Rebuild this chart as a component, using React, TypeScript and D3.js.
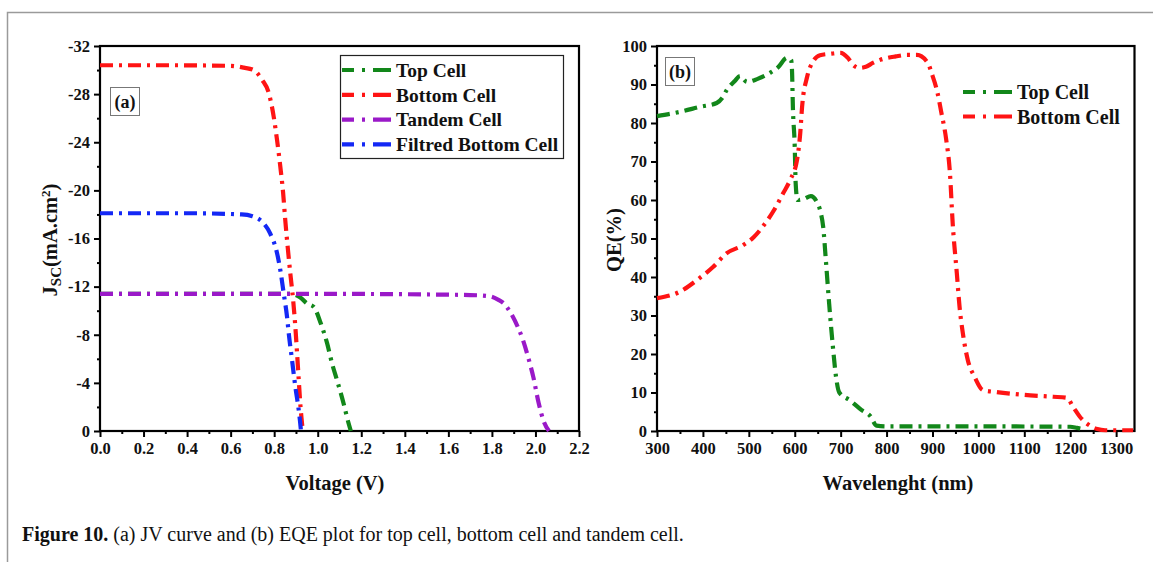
import React, { useEffect, useRef } from "react";
import * as d3 from "d3";

// JV curves (voltage V, current density mA/cm2)
const topCellJV: [number, number][] = [
  [0, -11.4], [0.5, -11.4], [0.87, -11.4], [0.92, -11.1], [0.95, -10.6], [0.982, -10.3],
  [1.013, -9.0], [1.043, -7.3], [1.066, -5.6], [1.089, -4.2], [1.12, -2.2], [1.135, -1.1], [1.152, 0],
];
const bottomCellJV: [number, number][] = [
  [0, -30.4], [0.3, -30.4], [0.6, -30.35], [0.66, -30.2], [0.706, -30.0], [0.744, -29.2],
  [0.775, -28.1], [0.798, -26.1], [0.813, -24.2], [0.828, -22.0], [0.841, -19.8], [0.851, -17.5],
  [0.862, -15.3], [0.874, -13.1], [0.887, -10.9], [0.897, -8.7], [0.905, -6.5], [0.913, -4.2],
  [0.921, -2.0], [0.928, -0.6], [0.931, 0],
];
const tandemCellJV: [number, number][] = [
  [0, -11.4], [1.0, -11.4], [1.5, -11.35], [1.7, -11.3], [1.79, -11.2], [1.83, -10.9],
  [1.855, -10.6], [1.89, -9.7], [1.92, -8.6], [1.94, -7.7], [1.97, -5.9], [1.99, -4.5],
  [2.015, -2.3], [2.04, -0.7], [2.062, 0],
];
const filteredCellJV: [number, number][] = [
  [0, -18.1], [0.4, -18.1], [0.65, -18.0], [0.7, -17.85], [0.744, -17.4], [0.782, -16.4],
  [0.813, -14.8], [0.828, -13.4], [0.844, -11.4], [0.859, -9.5], [0.867, -8.1], [0.882, -5.9],
  [0.897, -3.7], [0.913, -1.7], [0.921, -0.4], [0.923, 0],
];

// EQE curves (wavelength nm, QE %)
const topCellQE: [number, number][] = [
  [300, 81.8], [350, 82.9], [394, 84.2], [430, 85.2], [442, 86.5], [452, 88.6], [470, 91],
  [481, 92.2], [496, 90.7], [518, 91.4], [546, 93], [564, 94.5], [583, 96.9], [592, 96.4],
  [594, 93.8], [596, 84], [600, 73.8], [602, 64.4], [606, 60], [620, 60.3], [635, 61],
  [648, 59.5], [656, 57], [662, 53], [668, 44], [675, 33], [683, 22], [690, 14], [697, 10],
  [720, 8], [745, 5.5], [765, 3.8], [778, 1.4], [800, 1.2], [1000, 1.2], [1200, 1.1],
  [1215, 0.8], [1228, 0.5],
];
const bottomCellQE: [number, number][] = [
  [300, 34.5], [350, 36.2], [387, 39.2], [422, 42.6], [452, 46.2], [488, 48.3], [511, 50.4],
  [533, 53.5], [555, 57.4], [575, 61.8], [590, 65.2], [605, 70.4], [612, 77.4], [616, 84.2],
  [627, 92], [640, 96], [655, 97.6], [680, 98], [700, 98.2], [715, 97], [728, 95], [740, 94.3],
  [755, 94.6], [770, 95.6], [786, 96.4], [820, 97.3], [845, 97.7], [866, 97.7], [890, 95.6],
  [898, 93], [911, 87.8], [919, 82.9], [930, 75.6], [938, 67], [944, 54], [953, 41], [959, 32.2],
  [966, 25.5], [977, 18.4], [992, 14], [1010, 10.6], [1040, 10.1], [1097, 9.4], [1163, 8.9],
  [1193, 8.6], [1206, 6.3], [1221, 3.7], [1240, 1.6], [1259, 0.5], [1276, 0.2], [1337, 0.2],
];

const jvLegend = ["Top Cell", "Bottom Cell", "Tandem Cell", "Filtred Bottom Cell"];
const qeLegend = ["Top Cell", "Bottom Cell"];
const colors = ["#12871a", "#ff1414", "#9a19c8", "#1428f5"];

const jvXTicks = d3.range(0, 2.21, 0.2);
const jvYTicks = d3.range(-32, 0.1, 4);
const qeXTicks = d3.range(300, 1301, 100);
const qeYTicks = d3.range(0, 101, 10);

const FONT = "'Liberation Serif', 'Times New Roman', serif";
const DASH = "13,6,3,6";

function drawFrame(g: any, x: any, y: any, xTicks: number[], yTicks: number[], xMinor: number[], yMinor: number[], xFmt: any, yFmt: any) {
  const [x0, x1] = x.range();
  const [y1, y0] = y.range();

  const xa = g.append("g").attr("transform", `translate(0,${y1})`)
    .call(d3.axisBottom(x).tickValues(xTicks).tickFormat(xFmt).tickSize(6).tickPadding(5).tickSizeOuter(0));
  g.append("g").attr("transform", `translate(0,${y1})`)
    .call(d3.axisBottom(x).tickValues(xMinor).tickFormat(() => "").tickSize(3).tickSizeOuter(0));
  const ya = g.append("g").attr("transform", `translate(${x0},0)`)
    .call(d3.axisLeft(y).tickValues(yTicks).tickFormat(yFmt).tickSize(6).tickPadding(4).tickSizeOuter(0));
  g.append("g").attr("transform", `translate(${x0},0)`)
    .call(d3.axisLeft(y).tickValues(yMinor).tickFormat(() => "").tickSize(3).tickSizeOuter(0));

  g.selectAll(".domain").remove();
  g.selectAll(".tick line").attr("stroke", "#000").attr("stroke-width", 2);
  [xa, ya].forEach((a) => a.selectAll("text")
    .attr("fill", "#111").style("font-family", FONT).style("font-weight", "bold").style("font-size", "16.5px"));

  g.append("rect")
    .attr("x", x0).attr("y", y0).attr("width", x1 - x0).attr("height", y1 - y0)
    .attr("fill", "none").attr("stroke", "#000").attr("stroke-width", 2.2);
}

function drawLines(g: any, x: any, y: any, series: [number, number][][]) {
  const line = d3.line<[number, number]>().x((d) => x(d[0])).y((d) => y(d[1])).curve(d3.curveMonotoneX);
  series.forEach((s, i) => {
    g.append("path").datum(s).attr("d", line)
      .attr("fill", "none").attr("stroke", colors[i]).attr("stroke-width", 4.2)
      .attr("stroke-dasharray", DASH);
  });
}

function drawLegend(g: any, names: string[], lx: number, ly: number, step: number, size: number) {
  names.forEach((n, i) => {
    const yy = ly + i * step;
    g.append("line").attr("x1", lx).attr("x2", lx + 49).attr("y1", yy).attr("y2", yy)
      .attr("stroke", colors[i]).attr("stroke-width", 4.2).attr("stroke-dasharray", "12,8,3,8,18");
    g.append("text").attr("x", lx + 54).attr("y", yy).attr("dy", "0.35em")
      .style("font-family", FONT).style("font-weight", "bold").style("font-size", `${size}px`)
      .attr("fill", "#111").text(n);
  });
}

function drawTag(g: any, label: string, bx: number, by: number) {
  g.append("rect").attr("x", bx).attr("y", by).attr("width", 29).attr("height", 28)
    .attr("fill", "#fff").attr("stroke", "#777").attr("stroke-width", 1);
  g.append("text").attr("x", bx + 14.5).attr("y", by + 14).attr("dy", "0.35em")
    .attr("text-anchor", "middle").style("font-family", FONT).style("font-weight", "bold")
    .style("font-size", "18px").attr("fill", "#111").text(label);
}

export default function App() {
  const ref = useRef<SVGSVGElement>(null);

  useEffect(() => {
    const svg = d3.select(ref.current);
    svg.selectAll("*").remove();

    // outer figure frame
    svg.append("path").attr("d", "M7.5,562 V12.5 H1153")
      .attr("fill", "none").attr("stroke", "#9a9a9a").attr("stroke-width", 1.5);

    // ---- panel (a): JV
    const ga = svg.append("g");
    const xa = d3.scaleLinear().domain([0, 2.2]).range([100, 579]);
    const ya = d3.scaleLinear().domain([0, -32]).range([431, 46]);
    drawFrame(ga, xa, ya, jvXTicks, jvYTicks, d3.range(0.1, 2.2, 0.2), d3.range(-30, 0, 4),
      d3.format(".1f"), (d: number) => String(Math.round(d)));
    drawLines(ga, xa, ya, [topCellJV, bottomCellJV, tandemCellJV, filteredCellJV]);

    ga.append("rect").attr("x", 340.5).attr("y", 55.5).attr("width", 223).attr("height", 103)
      .attr("fill", "#fff").attr("stroke", "#222").attr("stroke-width", 1.2);
    drawLegend(ga, jvLegend, 342, 70, 24.8, 19.5);
    drawTag(ga, "(a)", 110.5, 87.5);

    ga.append("text").attr("x", 335).attr("y", 490).attr("text-anchor", "middle")
      .style("font-family", FONT).style("font-weight", "bold").style("font-size", "20.5px")
      .attr("fill", "#111").text("Voltage (V)");
    const jt = ga.append("text").attr("transform", "translate(57,240) rotate(-90)")
      .attr("text-anchor", "middle").style("font-family", FONT).style("font-weight", "bold")
      .style("font-size", "20.5px").attr("fill", "#111");
    jt.append("tspan").text("J");
    jt.append("tspan").attr("dy", 4).style("font-size", "15px").text("SC");
    jt.append("tspan").attr("dy", -4).text("(mA.cm");
    jt.append("tspan").attr("dy", -7).style("font-size", "13px").text("2");
    jt.append("tspan").attr("dy", 7).text(")");

    // ---- panel (b): EQE
    const gb = svg.append("g");
    const xb = d3.scaleLinear().domain([300, 1340]).range([657, 1134.5]);
    const yb = d3.scaleLinear().domain([0, 100]).range([431, 46]);
    drawFrame(gb, xb, yb, qeXTicks, qeYTicks, d3.range(350, 1340, 100), d3.range(5, 100, 10),
      (d: number) => String(d), (d: number) => String(d));
    drawLines(gb, xb, yb, [topCellQE, bottomCellQE]);
    drawLegend(gb, qeLegend, 963, 92, 24.5, 20);
    drawTag(gb, "(b)", 665.5, 57.5);

    gb.append("text").attr("x", 898).attr("y", 490).attr("text-anchor", "middle")
      .style("font-family", FONT).style("font-weight", "bold").style("font-size", "20.5px")
      .attr("fill", "#111").text("Wavelenght (nm)");
    gb.append("text").attr("transform", "translate(621,240) rotate(-90)")
      .attr("text-anchor", "middle").style("font-family", FONT).style("font-weight", "bold")
      .style("font-size", "20.5px").attr("fill", "#111").text("QE(%)");

    // caption
    const cap = svg.append("text").attr("x", 22).attr("y", 541)
      .style("font-family", FONT).style("font-size", "20px").attr("fill", "#111");
    cap.append("tspan").style("font-weight", "bold").text("Figure 10.");
    cap.append("tspan").text(" (a) JV curve and (b) EQE plot for top cell, bottom cell and tandem cell.");
  }, []);

  return (
    <svg ref={ref} width={1153} height={562}
      style={{ position: "absolute", left: 0, top: 0, background: "#fff" }} />
  );
}
